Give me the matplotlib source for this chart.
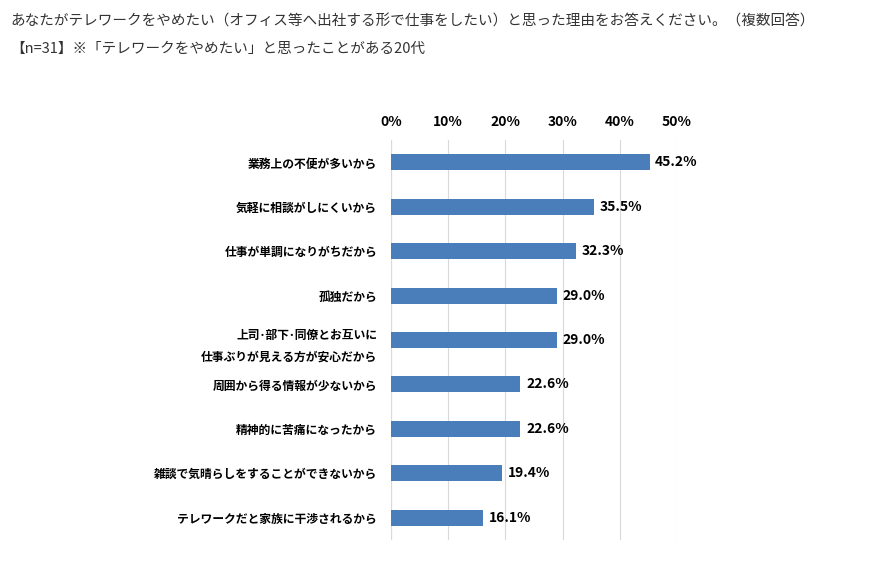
import matplotlib.pyplot as plt

plt.rcParams['font.family'] = ['Noto Sans CJK JP', 'DejaVu Sans']

labels = ["業務上の不便が多いから", "気軽に相談がしにくいから", "仕事が単調になりがちだから",
          "孤独だから", "上司･部下･同僚とお互いに\n仕事ぶりが見える方が安心だから",
          "周囲から得る情報が少ないから", "精神的に苦痛になったから",
          "雑談で気晴らしをすることができないから", "テレワークだと家族に干渉されるから"]
values = [45.2, 35.5, 32.3, 29.0, 29.0, 22.6, 22.6, 19.4, 16.1]
ticks = [0, 10, 20, 30, 40, 50]

fig = plt.figure(figsize=(8.69, 5.63), dpi=100)
fig.text(0.012, 0.975, "あなたがテレワークをやめたい（オフィス等へ出社する形で仕事をしたい）と思った理由をお答えください。（複数回答）",
         fontsize=10.5, va='top', color='#333333')
fig.text(0.012, 0.925, "【n=31】※「テレワークをやめたい」と思ったことがある20代",
         fontsize=10.5, va='top', color='#333333')

ax = fig.add_axes([0.450, 0.041, 0.329, 0.710])
y = list(range(len(values)))
ax.barh(y, values, height=0.36, color='#4a7ebb', zorder=2)
for yi, v in zip(y, values):
    ax.text(v + 1, yi, f"{v:.1f}%", va='center', fontsize=10, fontweight='bold')
ax.set_xlim(0, 50)
ax.set_ylim(8.5, -0.5)
ax.set_xticks(ticks)
ax.set_xticklabels([f"{t}%" for t in ticks], fontsize=10, fontweight='bold')
ax.xaxis.tick_top()
ax.tick_params(axis='x', length=0, pad=8)
ax.set_yticks(y)
ax.set_yticklabels(labels, fontsize=8.5, fontweight='bold', linespacing=1.9)
ax.tick_params(axis='y', length=0, pad=10)
ax.grid(axis='x', color='#d9d9d9', lw=0.8, zorder=0)
for s in ax.spines.values():
    s.set_visible(False)
ax.axvline(0, color='#bfbfbf', lw=0.8, zorder=1)

fig.savefig("out.png", dpi=100)
